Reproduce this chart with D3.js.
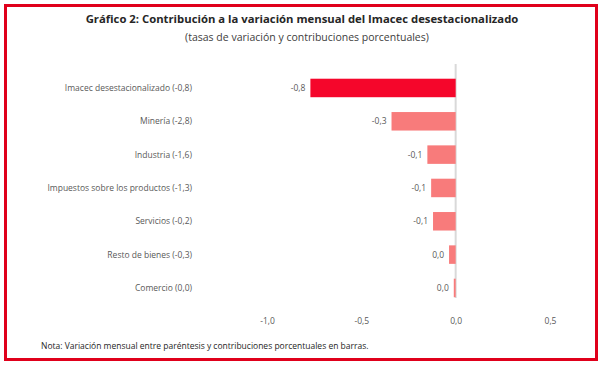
<!DOCTYPE html>
<html>
<head>
<meta charset="utf-8">
<script src="https://cdn.jsdelivr.net/npm/d3@7"></script>
<style>
  html, body { margin: 0; padding: 0; background: #fff; }
  svg { display: block; font-family: "Open Sans", "Noto Sans", sans-serif; }
</style>
</head>
<body>
<div id="chart"></div>
<script>
// categories (with monthly variation in parentheses)
const categories = [
  "Imacec desestacionalizado (-0,8)",
  "Minería (-2,8)",
  "Industria (-1,6)",
  "Impuestos sobre los productos (-1,3)",
  "Servicios (-0,2)",
  "Resto de bienes (-0,3)",
  "Comercio (0,0)"
];
// contributions
const contributions = [-0.77, -0.34, -0.15, -0.13, -0.12, -0.035, -0.01];
const barLabels = ["-0,8", "-0,3", "-0,1", "-0,1", "-0,1", "0,0", "0,0"];
const tickValues = [-1, -0.5, 0, 0.5];
const tickLabels = ["-1,0", "-0,5", "0,0", "0,5"];

const width = 603, height = 365;

const svg = d3.select("#chart").append("svg")
  .attr("width", width)
  .attr("height", height);

// frame
svg.append("rect")
  .attr("x", 5.5).attr("y", 5.5)
  .attr("width", 591).attr("height", 354)
  .attr("fill", "#fff")
  .attr("stroke", "#e0001b")
  .attr("stroke-width", 3);

svg.append("text")
  .attr("x", 302).attr("y", 23)
  .attr("text-anchor", "middle")
  .attr("fill", "#262626")
  .style("font-size", "11.3px")
  .style("font-weight", "bold")
  .text("Gráfico 2: Contribución a la variación mensual del Imacec desestacionalizado");

svg.append("text")
  .attr("x", 307).attr("y", 41)
  .attr("text-anchor", "middle")
  .attr("fill", "#404040")
  .style("font-size", "10.5px")
  .text("(tasas de variación y contribuciones porcentuales)");

const x = d3.scaleLinear().domain([-1, 0.5]).range([267, 550]);
const y = d3.scaleBand().domain(categories).range([71.3, 304.6])
  .paddingInner(0.445).paddingOuter(0.2225);

// zero line
svg.append("line")
  .attr("x1", x(0)).attr("x2", x(0))
  .attr("y1", 64).attr("y2", 298)
  .attr("stroke", "#d9d9d9")
  .attr("stroke-width", 2);

svg.selectAll(".bar")
  .data(contributions)
  .enter().append("rect")
  .attr("class", "bar")
  .attr("x", d => x(Math.min(0, d)))
  .attr("width", d => Math.abs(x(d) - x(0)))
  .attr("y", (d, i) => y(categories[i]))
  .attr("height", y.bandwidth())
  .attr("fill", (d, i) => i === 0 ? "#f5062b" : "#f87b7b");

svg.selectAll(".val")
  .data(contributions)
  .enter().append("text")
  .attr("class", "val")
  .attr("x", d => x(Math.min(0, d)) - 5)
  .attr("y", (d, i) => y(categories[i]) + y.bandwidth() / 2)
  .attr("dy", "0.35em")
  .attr("text-anchor", "end")
  .attr("fill", "#595959")
  .style("font-size", "8.5px")
  .text((d, i) => barLabels[i]);

svg.selectAll(".cat")
  .data(categories)
  .enter().append("text")
  .attr("class", "cat")
  .attr("x", 192)
  .attr("y", d => y(d) + y.bandwidth() / 2)
  .attr("dy", "0.35em")
  .attr("text-anchor", "end")
  .attr("fill", "#595959")
  .style("font-size", "8.5px")
  .text(d => d);

const xAxis = svg.append("g")
  .attr("transform", "translate(0,315)")
  .call(d3.axisBottom(x).tickValues(tickValues).tickSize(0)
    .tickFormat((d, i) => tickLabels[i]));
xAxis.select(".domain").remove();
xAxis.selectAll("text")
  .attr("fill", "#595959")
  .style("font-family", "'Open Sans', sans-serif")
  .style("font-size", "8.5px");

svg.append("text")
  .attr("x", 41).attr("y", 349)
  .attr("fill", "#262626")
  .style("font-size", "8.5px")
  .text("Nota: Variación mensual entre paréntesis y contribuciones porcentuales en barras.");
</script>
</body>
</html>
